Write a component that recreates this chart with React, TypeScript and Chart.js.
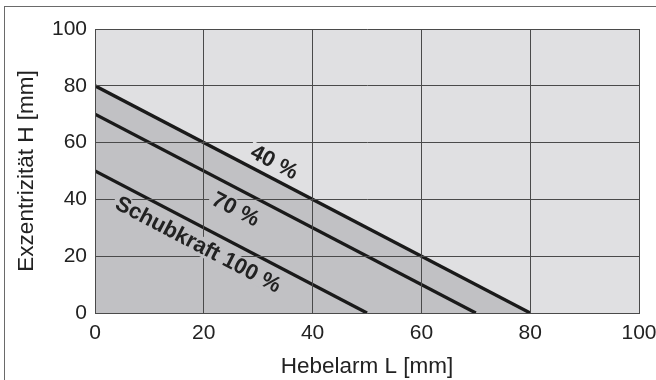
import React, { useEffect, useRef } from 'react';
import { Chart, registerables } from 'chart.js';
Chart.register(...registerables);

// Data
const axisTicks = [0, 20, 40, 60, 80, 100];
const line40 = [{ x: 0, y: 80 }, { x: 80, y: 0 }];
const line70 = [{ x: 0, y: 70 }, { x: 70, y: 0 }];
const line100 = [{ x: 0, y: 50 }, { x: 50, y: 0 }];
const labelTexts = ['40 %', '70 %', 'Schubkraft 100 %'];
const labelX = [32.9, 25.8, 18.9];
const labelY = [52.9, 36.3, 23.9];
const xTitle = 'Hebelarm L [mm]';
const yTitle = 'Exzentrizität H [mm]';

const LIGHT = '#e0e0e2';
const DARK = '#c1c1c4';
const LINE = '#1a1a1a';
const GRID = '#4a4a4a';
const TEXT = '#222222';
const FONT = "'Liberation Sans', Arial, sans-serif";

export default function App() {
  const ref = useRef<HTMLCanvasElement>(null);
  useEffect(() => {
    const bgPlugin = {
      id: 'bgPlot',
      beforeDraw(chart: any) {
        const { ctx, chartArea } = chart;
        ctx.save();
        ctx.fillStyle = LIGHT;
        ctx.fillRect(chartArea.left, chartArea.top, chartArea.right - chartArea.left, chartArea.bottom - chartArea.top);
        ctx.restore();
      },
    };
    const labelPlugin = {
      id: 'lineLabels',
      afterDraw(chart: any) {
        const { ctx } = chart;
        const xs = chart.scales.x;
        const ys = chart.scales.y;
        const dx = xs.getPixelForValue(line40[1].x) - xs.getPixelForValue(line40[0].x);
        const dy = ys.getPixelForValue(line40[1].y) - ys.getPixelForValue(line40[0].y);
        const angle = Math.atan2(dy, dx);
        const bgs = [LIGHT, DARK, DARK];
        labelTexts.forEach((t, i) => {
          const px = xs.getPixelForValue(labelX[i]);
          const py = ys.getPixelForValue(labelY[i]);
          ctx.save();
          ctx.translate(px, py);
          ctx.rotate(angle);
          ctx.font = `bold 22px ${FONT}`;
          const w = ctx.measureText(t).width;
          ctx.fillStyle = bgs[i];
          ctx.fillRect(-w / 2 - 3, -10, w + 6, 19);
          ctx.fillStyle = TEXT;
          ctx.textAlign = 'center';
          ctx.textBaseline = 'middle';
          ctx.fillText(t, 0, 0);
          ctx.restore();
        });
      },
    };
    const chart = new Chart(ref.current!, {
      type: 'line',
      data: {
        datasets: [
          { label: labelTexts[0], data: line40, order: 3, borderColor: LINE, borderWidth: 3.3, pointRadius: 0, fill: 'origin', backgroundColor: DARK, tension: 0 },
          { label: labelTexts[1], data: line70, order: 2, borderColor: LINE, borderWidth: 3.3, pointRadius: 0, fill: false, tension: 0 },
          { label: labelTexts[2], data: line100, order: 1, borderColor: LINE, borderWidth: 3.3, pointRadius: 0, fill: false, tension: 0 },
        ],
      },
      options: {
        responsive: false,
        animation: false,
        devicePixelRatio: 1,
        layout: { padding: { top: 29, right: 17, left: 0, bottom: 0 } },
        plugins: { legend: { display: false }, tooltip: { enabled: false } },
        scales: {
          x: {
            type: 'linear',
            min: 0,
            max: 100,
            afterFit(scale: any) { scale.height = 67; scale.paddingLeft = 0; scale.paddingRight = 0; },
            afterBuildTicks(scale: any) { scale.ticks = axisTicks.map((v) => ({ value: v })); },
            grid: { color: GRID, lineWidth: 1, drawTicks: false, z: 1 },
            border: { color: GRID, width: 1, z: 1 },
            ticks: { color: TEXT, font: { family: FONT, size: 21 }, padding: 8, maxRotation: 0 },
            title: { display: true, text: xTitle, color: TEXT, font: { family: FONT, size: 22.5 }, padding: { top: 0, bottom: 0 } },
          },
          y: {
            type: 'linear',
            min: 0,
            max: 100,
            afterFit(scale: any) { scale.width = 95; scale.paddingTop = 0; scale.paddingBottom = 0; },
            afterBuildTicks(scale: any) { scale.ticks = axisTicks.map((v) => ({ value: v })); },
            grid: { color: GRID, lineWidth: 1, drawTicks: false, z: 1 },
            border: { color: GRID, width: 1, z: 1 },
            ticks: { color: TEXT, font: { family: FONT, size: 21 }, padding: 8 },
            title: { display: true, text: yTitle, color: TEXT, font: { family: FONT, size: 22.5 }, padding: { top: 13, bottom: 0 } },
          },
        },
      },
      plugins: [bgPlugin, labelPlugin],
    } as any);
    return () => chart.destroy();
  }, []);
  return (
    <div style={{ position: 'absolute', left: 0, top: 0, width: 656, height: 380, background: '#fff', overflow: 'hidden' }}>
      <div style={{ position: 'absolute', left: 4, top: 6, right: -2, bottom: -2, borderTop: '1px solid #6a6a6a', borderLeft: '1px solid #6a6a6a' }} />
      <canvas ref={ref} width={656} height={380} style={{ position: 'absolute', left: 0, top: 0, width: 656, height: 380 }} />
    </div>
  );
}
